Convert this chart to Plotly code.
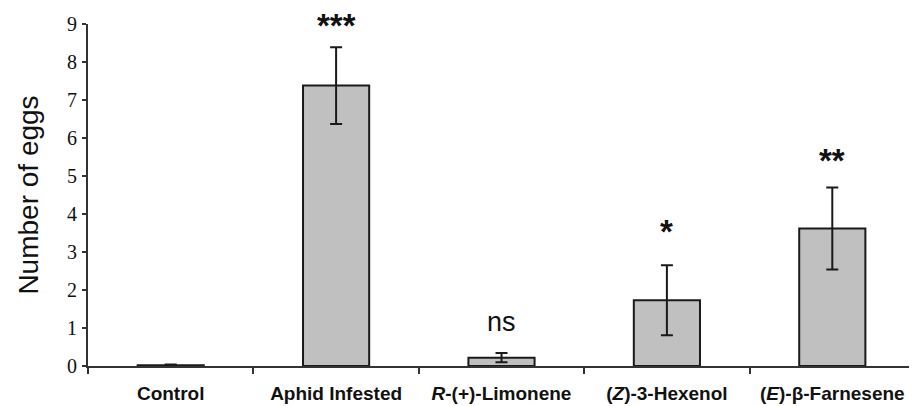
import plotly.graph_objects as go

categories = ["Control", "Aphid Infested", "<i>R</i>-(+)-Limonene",
              "(<i>Z</i>)-3-Hexenol", "(<i>E</i>)-β-Farnesene"]
means = [0.02, 7.38, 0.22, 1.73, 3.62]
errors = [0.02, 1.01, 0.12, 0.92, 1.08]
sig_labels = ["", "***", "ns", "*", "**"]
sig_y = [None, 9.0, 1.16, 3.64, 5.51]
y_ticks = list(range(0, 10))

fig = go.Figure()
fig.add_trace(go.Bar(
    x=categories, y=means, width=0.4,
    marker=dict(color="#c0c0c0", line=dict(color="#1a1a1a", width=2)),
    error_y=dict(type="data", array=errors, color="#1a1a1a", thickness=2, width=6, visible=True),
    showlegend=False,
))

for c, lab, yy in zip(categories, sig_labels, sig_y):
    if not lab:
        continue
    is_star = "*" in lab
    kw = {}
    shift = 0
    if is_star:
        shift = -4
    if lab == "***":
        shift = 4
        kw = dict(height=26, valign="top")
    fig.add_annotation(
        x=c, y=yy, text=("<b>" + lab + "</b>") if is_star else lab,
        showarrow=False, xref="x", yref="y",
        yshift=shift,
        font=dict(family="Liberation Sans, Arial", size=33 if is_star else 27,
                  color="#111111"),
        **kw,
    )

fig.update_layout(
    width=909, height=398,
    margin=dict(l=80, r=2, t=16, b=40),
    paper_bgcolor="white", plot_bgcolor="white",
    xaxis=dict(
        automargin=False,
        tickson="boundaries", ticks="outside", ticklen=6, tickwidth=2, tickcolor="#333333",
        showline=True, linecolor="#333333", linewidth=2, showgrid=False,
        tickfont=dict(family="Liberation Sans, Arial", size=19, color="#111111"),
        tickvals=categories, ticktext=["<b>" + c + "</b>" for c in categories],
        ticklabelstandoff=9,
        range=[-0.5, 4.5],
    ),
    yaxis=dict(
        automargin=False,
        range=[0, 9], tickvals=y_ticks, ticks="outside", ticklen=4, tickwidth=2,
        tickcolor="#333333", showline=True, linecolor="#333333", linewidth=2,
        showgrid=False, zeroline=False,
        tickfont=dict(family="Liberation Serif, Times New Roman", size=20, color="#111111"),
        ticklabelstandoff=1,
        tickprefix="<b>", ticksuffix="</b>",
        title=dict(text="Number of eggs", standoff=20,
                   font=dict(family="Liberation Sans, Arial", size=28, color="#111111")),
    ),
)

fig.write_html("out.html")
